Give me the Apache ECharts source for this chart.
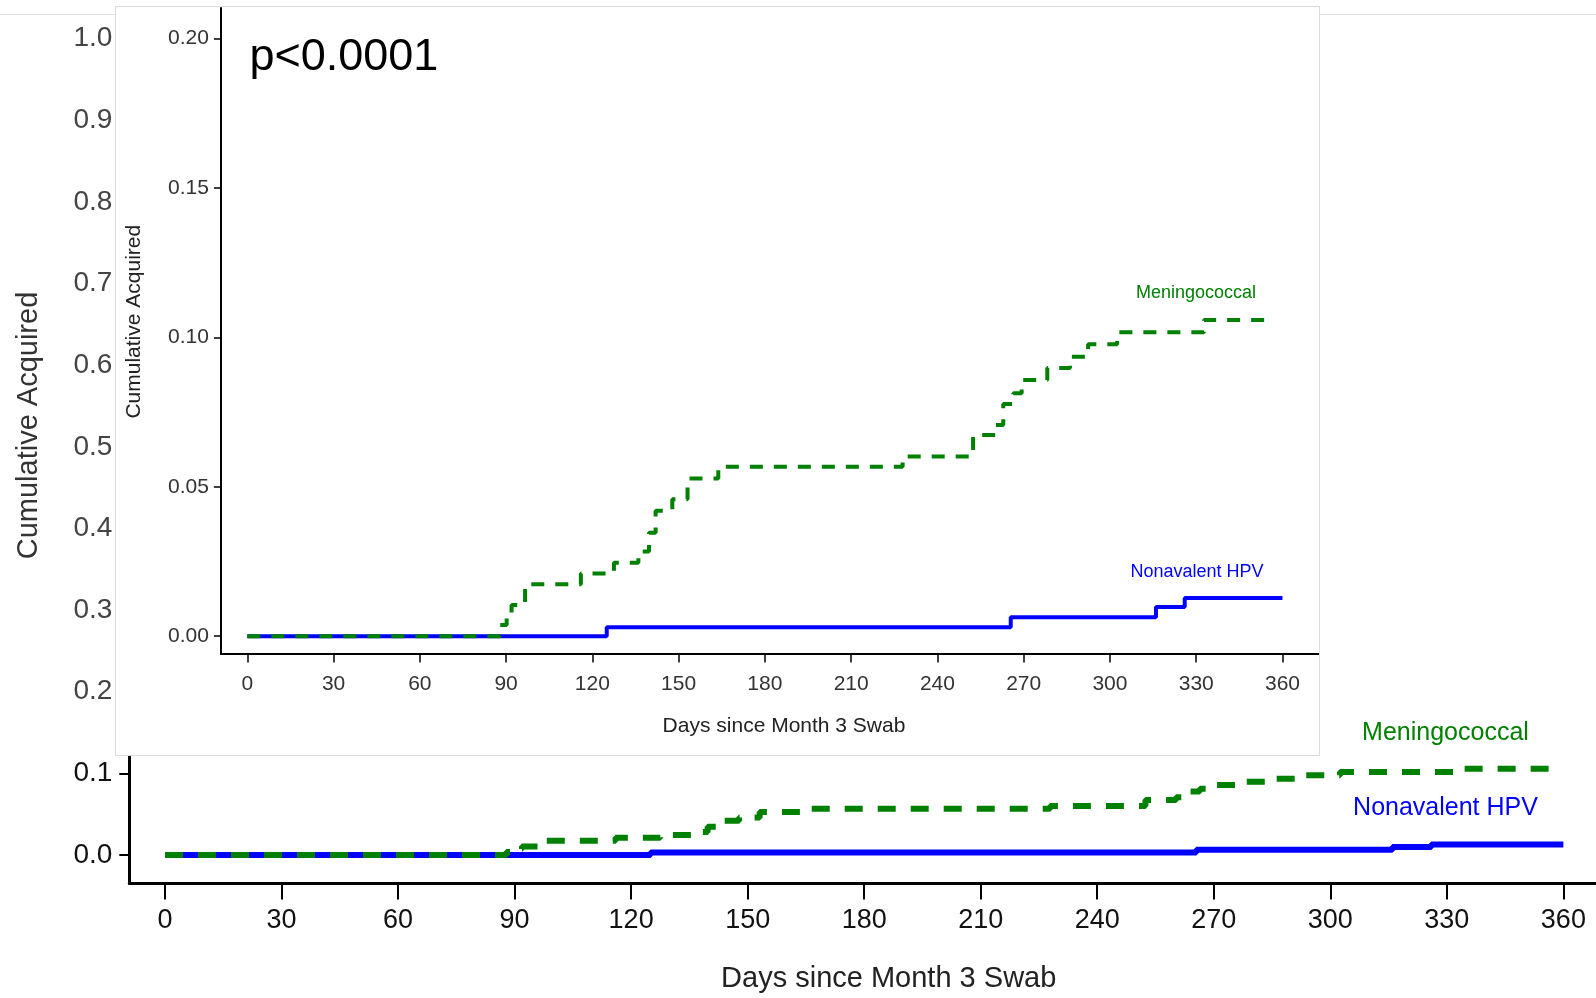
<!DOCTYPE html>
<html>
<head>
<meta charset="utf-8" />
<title>Cumulative Acquired</title>
<script src="https://cdn.jsdelivr.net/npm/echarts@6/dist/echarts.min.js"></script>
<style>
	html, body { margin: 0; padding: 0; background: #fff; }
	#main { position: absolute; left: 0; top: 0; width: 1596px; height: 998px; }
	#inset { position: absolute; left: 115px; top: 6px; width: 1205px; height: 750px;
		box-sizing: border-box; border: 1px solid #dcdcdc; background: #fff; }
</style>
</head>
<body>
<div id="main"></div>
<div id="inset"></div>
<script type="text/javascript">
// 数据
var menDays = [0, 87.9, 90.2, 91.9, 96.6, 116, 127.5, 136, 139.7, 142, 147.8, 153.1, 163.8,
	227.9, 252.4, 260.3, 262.9, 266.4, 269.3, 278.2, 286.1, 292.4, 302.5, 332.7, 357.3];
var menCum = [0, 0.0037, 0.0074, 0.0104, 0.0174, 0.0210, 0.0246, 0.0283, 0.0346, 0.0420, 0.0458, 0.0528, 0.0567,
	0.0601, 0.0673, 0.0707, 0.0777, 0.0813, 0.0857, 0.0897, 0.0935, 0.0977, 0.1017, 0.1058, 0.1058];
var hpvDays = [0, 125, 265.5, 316, 326, 360];
var hpvCum = [0, 0.0030, 0.0063, 0.0098, 0.0128, 0.0128];
var xTicks = [0, 30, 60, 90, 120, 150, 180, 210, 240, 270, 300, 330, 360];
var yTicksMain = [0, 0.1, 0.2, 0.3, 0.4, 0.5, 0.6, 0.7, 0.8, 0.9, 1.0];
var yTicksInset = [0, 0.05, 0.10, 0.15, 0.20];

var FONT = '"Liberation Sans", Arial, sans-serif';
var GREEN = '#008000', BLUE = '#0000ff';

function pairs(xs, ys) {
	return xs.map(function (x, i) { return [x, ys[i]]; });
}

//// background chart
var mainChart = echarts.init(document.getElementById('main'));
var mainOption = {
	animation: false,
	grid: { left: 129.3, right: 0, top: 38.7, bottom: 114.5 },
	xAxis: {
		type: 'value', min: -9.19, max: 368.4,
		splitLine: { show: false },
		axisLine: { onZero: false, lineStyle: { color: '#000', width: 3 } },
		axisTick: { customValues: xTicks, length: 16, lineStyle: { color: '#000', width: 2 } },
		axisLabel: { customValues: xTicks, margin: 24, fontSize: 27, fontFamily: FONT, color: '#111' }
	},
	yAxis: {
		type: 'value', min: -0.0349, max: 1.0,
		splitLine: { show: false },
		axisLine: { show: true, onZero: false, lineStyle: { color: '#000', width: 3 } },
		axisTick: { show: true, customValues: yTicksMain, length: 10, lineStyle: { color: '#000', width: 2 } },
		axisLabel: {
			customValues: yTicksMain, margin: 17, fontSize: 28, fontFamily: FONT,
			formatter: function (v) { return v.toFixed(1); },
			color: function (v) { return v > 0.15 ? '#444' : '#111'; }
		}
	},
	graphic: [
		{ type: 'line', shape: { x1: 0, y1: 14.5, x2: 1596, y2: 14.5 }, style: { stroke: '#e2e2e2', lineWidth: 1 } },
		{ type: 'text', x: 28.5, y: 425.5, rotation: Math.PI / 2,
			style: { text: 'Cumulative Acquired', font: '29px ' + FONT, fill: '#333', textAlign: 'center', textVerticalAlign: 'middle' } },
		{ type: 'text', x: 888.7, y: 979,
			style: { text: 'Days since Month 3 Swab', font: '29px ' + FONT, fill: '#222', textAlign: 'center', textVerticalAlign: 'middle' } },
		{ type: 'text', x: 1445.5, y: 733,
			style: { text: 'Meningococcal', font: '25px ' + FONT, fill: GREEN, textAlign: 'center', textVerticalAlign: 'middle' } },
		{ type: 'text', x: 1445.5, y: 808,
			style: { text: 'Nonavalent HPV', font: '25px ' + FONT, fill: BLUE, textAlign: 'center', textVerticalAlign: 'middle' } }
	],
	series: [
		{ name: 'Nonavalent HPV', type: 'line', step: 'end', showSymbol: false, data: pairs(hpvDays, hpvCum),
			lineStyle: { color: BLUE, width: 6 } },
		{ name: 'Meningococcal', type: 'line', step: 'end', showSymbol: false, data: pairs(menDays, menCum),
			lineStyle: { color: GREEN, width: 6, type: [18, 15] } }
	]
};
mainChart.setOption(mainOption);

//// inset chart
var insetChart = echarts.init(document.getElementById('inset'));
var insetOption = {
	animation: false,
	grid: { left: 104.9, right: 0, top: 1, bottom: 101.5 },
	xAxis: {
		type: 'value', min: -9.18, max: 372.7,
		splitLine: { show: false },
		axisLine: { onZero: false, lineStyle: { color: '#000', width: 2 } },
		axisTick: { customValues: xTicks, length: 9, lineStyle: { color: '#000', width: 1.5 } },
		axisLabel: { customValues: xTicks, margin: 20, fontSize: 21, fontFamily: FONT, color: '#333' }
	},
	yAxis: {
		type: 'value', min: -0.0058, max: 0.2102,
		splitLine: { show: false },
		axisLine: { show: true, onZero: false, lineStyle: { color: '#000', width: 2 } },
		axisTick: { show: true, customValues: yTicksInset, length: 7, lineStyle: { color: '#000', width: 1.5 } },
		axisLabel: {
			customValues: yTicksInset, margin: 12, fontSize: 21, fontFamily: FONT, color: '#333',
			formatter: function (v) { return v.toFixed(2); }
		}
	},
	graphic: [
		{ type: 'text', x: 133.4, y: 51,
			style: { text: 'p<0.0001', font: '45px ' + FONT, fill: '#000', textAlign: 'left', textVerticalAlign: 'middle' } },
		{ type: 'text', x: 18.4, y: 314.7, rotation: Math.PI / 2,
			style: { text: 'Cumulative Acquired', font: '21px ' + FONT, fill: '#222', textAlign: 'center', textVerticalAlign: 'middle' } },
		{ type: 'text', x: 668, y: 719,
			style: { text: 'Days since Month 3 Swab', font: '21px ' + FONT, fill: '#222', textAlign: 'center', textVerticalAlign: 'middle' } },
		{ type: 'text', x: 1080, y: 286,
			style: { text: 'Meningococcal', font: '18px ' + FONT, fill: GREEN, textAlign: 'center', textVerticalAlign: 'middle' } },
		{ type: 'text', x: 1081, y: 565,
			style: { text: 'Nonavalent HPV', font: '18px ' + FONT, fill: BLUE, textAlign: 'center', textVerticalAlign: 'middle' } }
	],
	series: [
		{ name: 'Nonavalent HPV', type: 'line', step: 'end', showSymbol: false, data: pairs(hpvDays, hpvCum),
			lineStyle: { color: BLUE, width: 4 } },
		{ name: 'Meningococcal', type: 'line', step: 'end', showSymbol: false, data: pairs(menDays, menCum),
			lineStyle: { color: GREEN, width: 4, type: [13, 11] } }
	]
};
insetChart.setOption(insetOption);
</script>
</body>
</html>
